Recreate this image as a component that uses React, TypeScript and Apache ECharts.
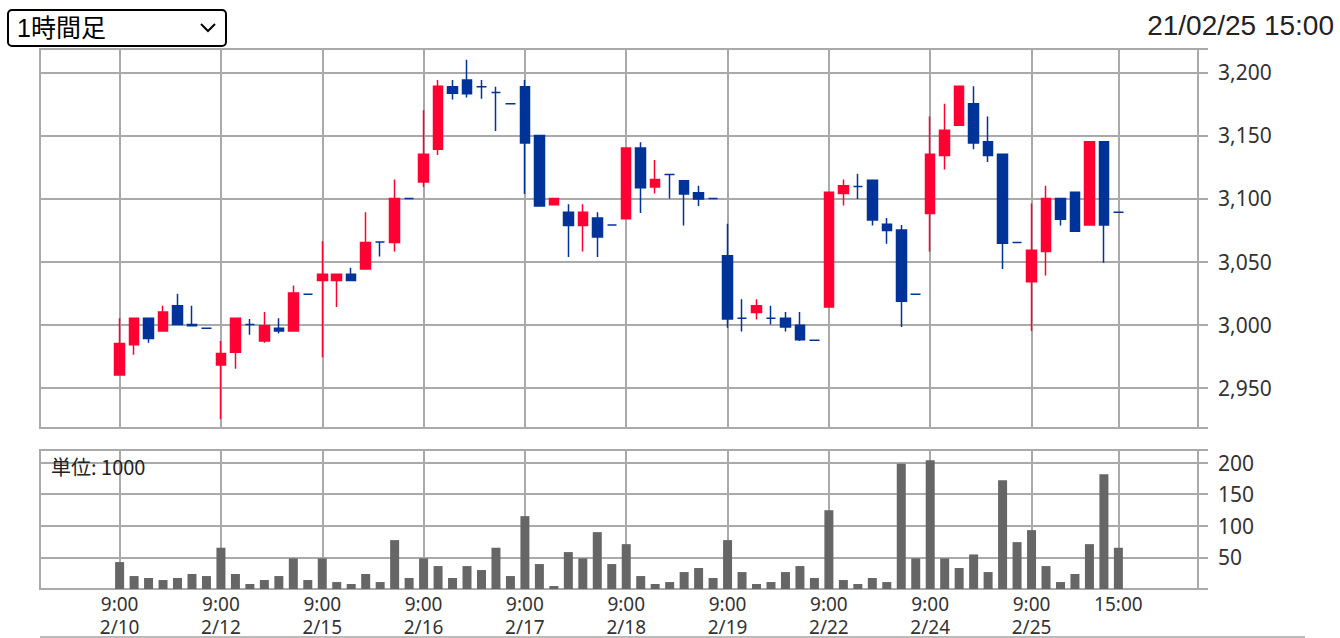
import React, { useEffect, useRef } from "react";
import * as echarts from "echarts";

const days = ["2/10", "2/12", "2/15", "2/16", "2/17", "2/18", "2/19", "2/22", "2/24", "2/25"];
const hours = ["9:00", "10:00", "11:00", "12:30", "13:00", "14:00", "15:00"];
const padSlots = 5;

// [open, close, low, high]
const opens = [
  2960, 2984, 3005, 2995, 3015, 3000, 2997,
  2968, 2978, 3000, 2987, 2997, 2995, 3024,
  3035, 3035, 3040, 3044, 3065.5, 3065, 3100,
  3113, 3139, 3188.5, 3194, 3188.5, 3184, 3175,
  3188.5, 3150, 3095, 3089, 3078.5, 3084.5, 3079,
  3084, 3140, 3109, 3119, 3114, 3104.5, 3100,
  3054.5, 3005, 3009.5, 3005, 3005, 2999.5, 2987.5,
  3014, 3104, 3109.5, 3114.5, 3079.5, 3075, 3024,
  3088, 3134, 3158, 3175, 3145, 3135, 3065,
  3034, 3058, 3100, 3105, 3079, 3145, 3089,
];
const closes = [
  2985, 3005, 2989, 3010, 3000, 2999, 2997,
  2977, 3005, 3000, 2999, 2995, 3025, 3024,
  3040, 3040, 3035, 3065, 3065.5, 3100, 3100,
  3135, 3189, 3183.5, 3183, 3188.5, 3184, 3175,
  3144, 3094, 3100, 3078.5, 3089, 3069.5, 3079,
  3140, 3108.5, 3115, 3119, 3103.5, 3099.5, 3100,
  3004.5, 3005, 3015, 3005, 2998, 2988, 2987.5,
  3105, 3110, 3109.5, 3083, 3074.5, 3018.5, 3024,
  3135, 3154, 3189, 3144, 3134, 3064.5, 3065,
  3059, 3100, 3083.5, 3074, 3145, 3079, 3089,
];
const lows = [
  2960, 2976, 2985.5, 2995, 3000, 2999, 2997,
  2925, 2965, 2992, 2985.5, 2993, 2995, 3024,
  2974, 3014, 3035, 3044, 3054, 3058, 3100,
  3109, 3134.5, 3178.5, 3180, 3179, 3153.5, 3175,
  3103.5, 3094, 3095, 3053.5, 3058, 3053.5, 3079,
  3084, 3088.5, 3104, 3100, 3078.5, 3094, 3100,
  2997.5, 2994.5, 3004, 3000, 2994.5, 2987, 2987.5,
  3014, 3094.5, 3099.5, 3078.5, 3064, 2998, 3024,
  3058, 3123, 3158, 3139, 3129, 3044, 3065,
  2995, 3039, 3078.5, 3074, 3079, 3049, 3089,
];
const highs = [
  3005, 3005, 3005, 3015, 3024.5, 3015, 2997,
  2987, 3005, 3004.5, 3010, 3005, 3031, 3024,
  3066, 3040, 3045, 3089, 3065.5, 3115, 3100,
  3170, 3194, 3194, 3210, 3194, 3188.5, 3175,
  3194, 3150, 3100, 3095.5, 3095.5, 3089, 3079,
  3140, 3144.5, 3130.5, 3119, 3114, 3110, 3100,
  3080, 3020, 3020, 3015, 3010, 3010, 2987.5,
  3105, 3115, 3119.5, 3114.5, 3084.5, 3079, 3024,
  3165, 3175, 3189, 3189, 3165, 3135, 3065,
  3096, 3110, 3100, 3105, 3145, 3145, 3089,
];
// volume, unit: 1000
const volumes = [
  42.6, 20.5, 17.4, 14.2, 17.4, 23.7, 20.5,
  65.3, 23.7, 7.9, 14.2, 20.5, 48.4, 14.2,
  48.4, 11, 7.9, 23.7, 11, 77.4, 17.4,
  48.4, 36.3, 17.4, 36.3, 30, 65.3, 20.5,
  115.3, 39.5, 4.7, 58.4, 48.4, 90, 39.5,
  71, 20.5, 7.9, 11, 26.8, 33.2, 17.4,
  77.4, 26.8, 7.9, 11, 26.8, 36.3, 17.4,
  124.7, 14.2, 7.9, 17.4, 11, 198.4, 48.4,
  203.7, 48.4, 33.2, 54.7, 26.8, 172, 74.2,
  93.2, 36.3, 11, 23.7, 71, 181.6, 65.3,
];
const priceTicks = [2950, 3000, 3050, 3100, 3150, 3200];
const volumeTicks = [50, 100, 150, 200];
const headerLabel = "1時間足";
const timestampLabel = "21/02/25 15:00";
const unitLabel = "単位: 1000";

const RED = "#ff0033";
const BLUE = "#003399";
const GRID = "#aaaaaa";
const FONT = "'Noto Sans', 'Noto Sans CJK JP', sans-serif";

export default function App() {
  const ref = useRef<HTMLDivElement>(null);

  useEffect(() => {
    if (!ref.current) return;
    const chart = echarts.init(ref.current, undefined, { renderer: "svg" });

    const n = opens.length;
    const cats: string[] = [];
    const labelMap: Record<number, string> = {};
    for (let i = 0; i < padSlots; i++) cats.push("pre" + i);
    for (let i = 0; i < n; i++) {
      const d = Math.floor(i / hours.length);
      const h = i % hours.length;
      cats.push(days[d] + " " + hours[h]);
      if (h === 0) labelMap[padSlots + i] = hours[0] + "\n" + days[d];
    }
    labelMap[padSlots + n - 1] = hours[hours.length - 1];
    for (let i = 0; i < padSlots; i++) cats.push("post" + i);

    const candleData: any[] = [];
    const volData: any[] = [];
    for (let i = 0; i < padSlots; i++) {
      candleData.push("-");
      volData.push("-");
    }
    for (let i = 0; i < n; i++) {
      const v = [opens[i], closes[i], lows[i], highs[i]];
      if (opens[i] === closes[i]) {
        candleData.push({
          value: v,
          itemStyle: { color: BLUE, color0: BLUE, borderColor: BLUE, borderColor0: BLUE },
        });
      } else candleData.push(v);
      volData.push(volumes[i]);
    }
    for (let i = 0; i < padSlots; i++) {
      candleData.push("-");
      volData.push("-");
    }

    const vLines = Object.keys(labelMap).map((k) => ({ xAxis: Number(k) }));
    const markLineBase = {
      silent: true,
      symbol: ["none", "none"],
      label: { show: false },
      lineStyle: { color: GRID, width: 2, type: "solid" },
      emphasis: { disabled: true },
      z: 1,
      animation: false,
      data: vLines,
    };

    const fmt = (v: number) =>
      priceTicks.includes(Math.round(v)) && Math.abs(v - Math.round(v)) < 1e-6
        ? Math.round(v).toLocaleString("en-US")
        : "";
    const vfmt = (v: number) => (volumeTicks.includes(v) ? String(v) : "");

    chart.setOption({
      animation: false,
      backgroundColor: "#ffffff",
      textStyle: { fontFamily: FONT },
      grid: [
        { left: 40, top: 49, width: 1158, height: 379, show: true, borderColor: GRID, borderWidth: 2, backgroundColor: "transparent" },
        { left: 40, top: 450, width: 1158, height: 139, show: true, borderColor: GRID, borderWidth: 2, backgroundColor: "transparent" },
      ],
      xAxis: [
        {
          type: "category", gridIndex: 0, data: cats, boundaryGap: true,
          axisLine: { show: false }, axisTick: { show: false }, axisLabel: { show: false }, splitLine: { show: false },
        },
        {
          type: "category", gridIndex: 1, data: cats, boundaryGap: true,
          axisLine: { show: false }, axisTick: { show: false }, splitLine: { show: false },
          axisLabel: {
            show: true,
            interval: (index: number) => labelMap[index] !== undefined,
            formatter: (_v: string, index: number) => labelMap[index] || "",
            color: "#333333", fontSize: 19, lineHeight: 23, margin: 3, fontFamily: FONT,
          },
        },
      ],
      yAxis: [
        {
          type: "value", gridIndex: 0, position: "right", min: 2918, max: 3218.5, scale: true,
          axisLine: { show: false },
          axisTick: { show: true, length: 10, lineStyle: { color: GRID, width: 2 } },
          splitLine: { show: true, lineStyle: { color: GRID, width: 2 } },
          axisLabel: { formatter: fmt, color: "#333333", fontSize: 21, margin: 20, fontFamily: FONT },
        },
        {
          type: "value", gridIndex: 1, position: "right", min: 0, max: 220, interval: 50,
          axisLine: { show: false },
          axisTick: { show: true, length: 10, lineStyle: { color: GRID, width: 2 } },
          splitLine: { show: true, lineStyle: { color: GRID, width: 2 } },
          axisLabel: { formatter: vfmt, color: "#333333", fontSize: 21, margin: 20, fontFamily: FONT },
        },
      ],
      series: [
        {
          type: "candlestick", xAxisIndex: 0, yAxisIndex: 0, data: candleData,
          barWidth: 10, z: 2,
          itemStyle: {
            color: RED, color0: BLUE, borderColor: RED, borderColor0: BLUE,
            borderColorDoji: BLUE, borderWidth: 1.5,
          },
          emphasis: { disabled: true },
          markLine: markLineBase,
        },
        {
          type: "bar", xAxisIndex: 1, yAxisIndex: 1, data: volData, barWidth: 9, z: 2,
          itemStyle: { color: "#666666" },
          emphasis: { disabled: true },
          markLine: markLineBase,
        },
      ],
      graphic: [
        {
          type: "rect", shape: { x: 8, y: 10, width: 218, height: 36, r: 4 },
          style: { fill: "#ffffff", stroke: "#000000", lineWidth: 2 }, z: 100,
        },
        {
          type: "text", x: 17, y: 28,
          style: { text: headerLabel, fill: "#000000", fontSize: 25, fontFamily: "'Liberation Sans', 'Noto Sans CJK JP', sans-serif", verticalAlign: "middle", align: "left" },
          z: 101,
        },
        {
          type: "polyline", shape: { points: [[201, 24], [208, 31], [215, 24]] },
          style: { stroke: "#000000", lineWidth: 2, fill: "none" }, z: 101,
        },
        {
          type: "text", x: 1334, y: 25,
          style: { text: timestampLabel, fill: "#222222", fontSize: 28, fontFamily: "'Liberation Sans', sans-serif", verticalAlign: "middle", align: "right" },
          z: 101,
        },
        {
          type: "text", x: 51, y: 466,
          style: { text: unitLabel, fill: "#222222", fontSize: 20, fontFamily: "'Noto Sans CJK JP', 'Noto Sans', sans-serif", verticalAlign: "middle", align: "left" },
          z: 101,
        },
        {
          type: "line", shape: { x1: 40, y1: 637, x2: 1305, y2: 637 },
          style: { stroke: "#bbbbbb", lineWidth: 2 }, z: 101,
        },
      ],
    });

    return () => chart.dispose();
  }, []);

  return (
    <div
      ref={ref}
      style={{ position: "absolute", left: 0, top: 0, width: 1340, height: 638 }}
    />
  );
}
